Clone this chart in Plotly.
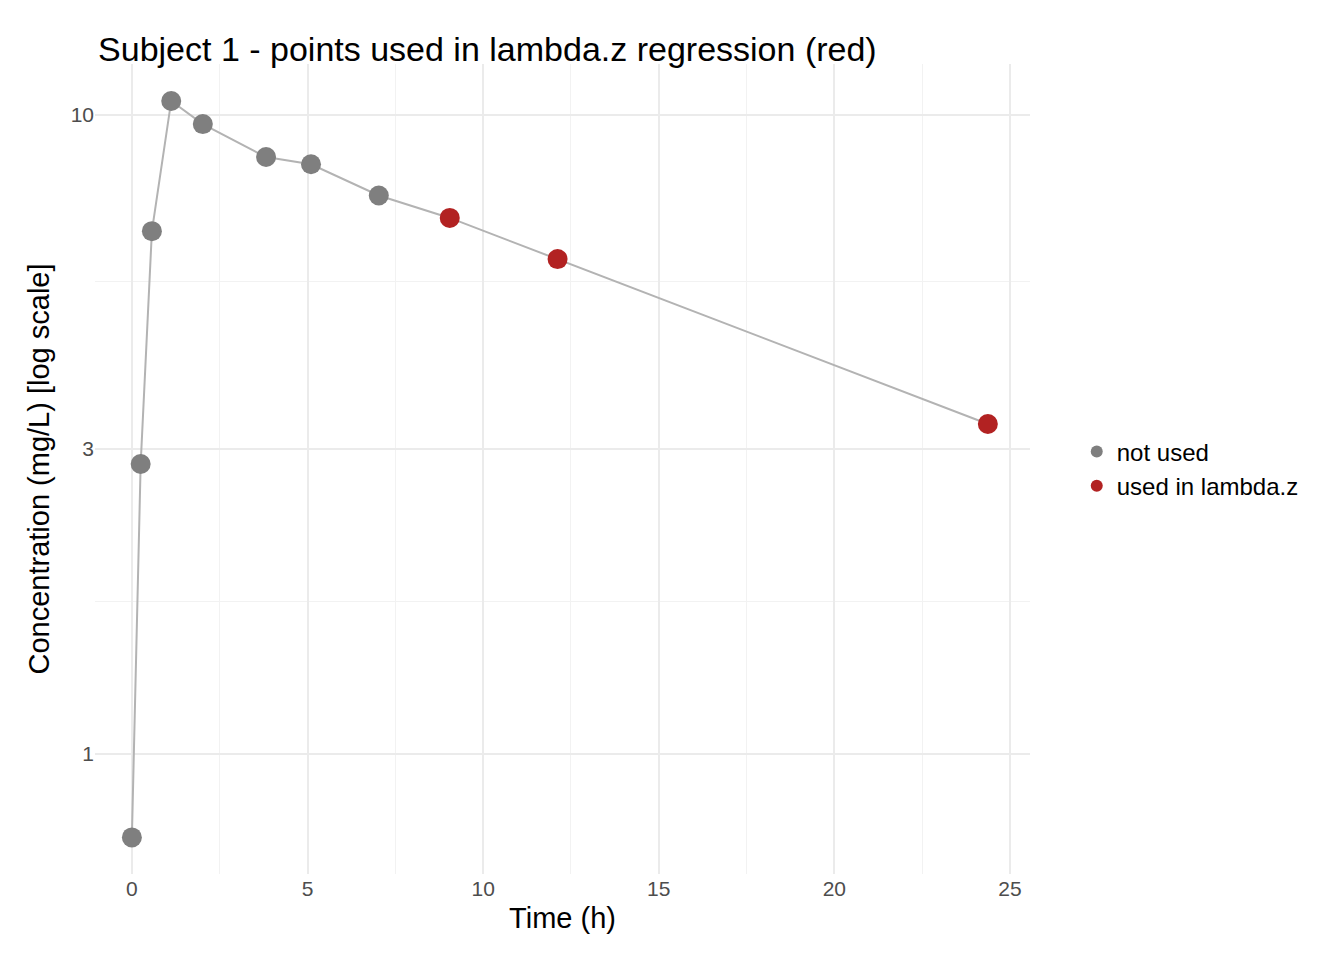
import numpy as np
import plotly.graph_objects as go

time_h = [0, 0.25, 0.57, 1.12, 2.02, 3.82, 5.10, 7.03, 9.05, 12.12, 24.37]
conc = [0.74, 2.84, 6.57, 10.50, 9.66, 8.58, 8.36, 7.47, 6.89, 5.94, 3.28]
used = [False] * 8 + [True] * 3

x_ticks = [0, 5, 10, 15, 20, 25]
y_ticks = [1, 3, 10]
y_minor = [np.sqrt(3), np.sqrt(30)]
x_minor = [2.5, 7.5, 12.5, 17.5, 22.5]

fig = go.Figure()
fig.add_trace(go.Scatter(x=time_h, y=conc, mode="lines",
                         line=dict(color="#b3b3b3", width=2),
                         showlegend=False, hoverinfo="skip"))
for flag, label, color in [(False, "not used", "#7f7f7f"), (True, "used in lambda.z", "#b22222")]:
    fig.add_trace(go.Scatter(
        x=[t for t, u in zip(time_h, used) if u == flag],
        y=[c for c, u in zip(conc, used) if u == flag],
        mode="markers", name=label,
        marker=dict(color=color, size=20)))

fig.update_layout(
    width=1344, height=960,
    plot_bgcolor="white", paper_bgcolor="white",
    font=dict(family="Liberation Sans, Arial", color="black"),
    margin=dict(l=87, r=322, t=56, b=94),
    title=dict(text="Subject 1 - points used in lambda.z regression (red)",
               x=0.067, xanchor="left", y=0.97, font=dict(size=34)),
    legend=dict(x=1.05, y=0.5, yanchor="middle", font=dict(size=24),
                itemsizing="constant", tracegroupgap=10),
)
fig.update_xaxes(range=[-1.05, 25.57], tickvals=x_ticks, zeroline=False,
                 showgrid=True, gridcolor="#ebebeb", gridwidth=1.8,
                 tickfont=dict(size=21, color="#4d4d4d"),
                 title=dict(text="Time (h)", font=dict(size=29), standoff=8),
                 minor=dict(tickvals=x_minor, showgrid=True, gridcolor="#f2f2f2", gridwidth=0.9))
fig.update_yaxes(type="log", range=[-0.188, 1.079], tickvals=y_ticks,
                 ticktext=[str(v) for v in y_ticks], zeroline=False,
                 showgrid=True, gridcolor="#ebebeb", gridwidth=1.8,
                 tickfont=dict(size=21, color="#4d4d4d"),
                 title=dict(text="Concentration (mg/L) [log scale]", font=dict(size=29), standoff=12),
                 minor=dict(tickvals=y_minor, showgrid=True, gridcolor="#f2f2f2", gridwidth=0.9))

fig.write_html("out.html")
